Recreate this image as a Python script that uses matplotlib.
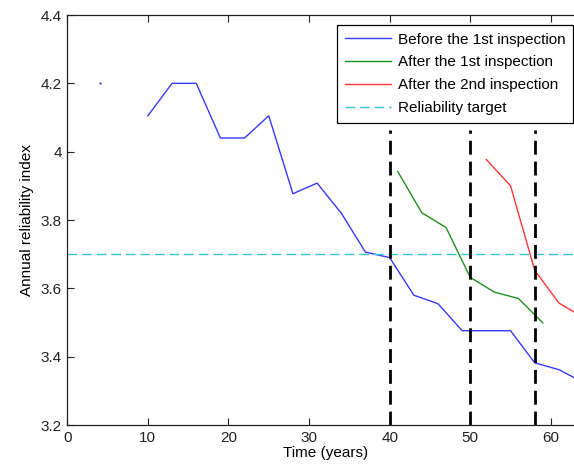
import numpy as np
import matplotlib
matplotlib.use("Agg")
import matplotlib.pyplot as plt

plt.rcParams['font.family'] = ['Liberation Sans', 'DejaVu Sans']

# Before the 1st inspection (the lone point at year 4 is drawn on its own)
t_before = [4, 7, 10, 13, 16, 19, 22, 25, 28, 31, 34, 37, 40, 43, 46, 49, 52, 55, 58, 61, 64]
r_before = [4.20, np.nan, 4.105, 4.20, 4.20, 4.04, 4.04, 4.105, 3.877, 3.908, 3.82, 3.706,
            3.69, 3.58, 3.555, 3.476, 3.476, 3.476, 3.382, 3.362, 3.325]

t_after1 = [41, 44, 47, 50, 53, 56, 59]
r_after1 = [3.942, 3.821, 3.778, 3.632, 3.589, 3.57, 3.499]

t_after2 = [52, 55, 58, 61, 64]
r_after2 = [3.977, 3.90, 3.653, 3.557, 3.515]

target = 3.7
inspections = [40, 50, 58]
insp_top = 4.063

fig = plt.figure(figsize=(5.74, 4.65), dpi=100)
# axes run a little past the right edge of the picture, as in the cropped original
ax = fig.add_axes([0.1172, 0.086, 0.8986, 0.8817])

blue = '#3838ff'
green = '#1f8f1f'
red = '#ff3535'
cyan = '#3cc4cc'

ax.plot(t_before, r_before, color=blue, lw=1.0, label='Before the 1st inspection')
ax.plot(t_before[:1], r_before[:1], color=blue, marker='s', ms=0.6, ls='none')
ax.plot(t_after1, r_after1, color=green, lw=1.0, label='After the 1st inspection')
ax.plot(t_after2, r_after2, color=red, lw=1.0, label='After the 2nd inspection')
ax.axhline(target, color=cyan, lw=1.0, ls=(0, (7, 3.5)), label='Reliability target')

for x in inspections:
    ax.plot([x, x], [3.2, insp_top], color='black', lw=2.0, ls=(0, (5, 2.5)))

ax.set_xlim(0, 64)
ax.set_ylim(3.2, 4.4)
ax.set_xticks(range(0, 61, 10))
ax.set_yticks([3.2, 3.4, 3.6, 3.8, 4.0, 4.2, 4.4])
ax.set_yticklabels(['3.2', '3.4', '3.6', '3.8', '4', '4.2', '4.4'])
ax.tick_params(direction='in', length=5, width=0.8, top=True, right=True,
               labelsize=11, colors='#222222', pad=4)
for s in ax.spines.values():
    s.set_linewidth(0.9)
    s.set_color('#222222')

ax.set_xlabel('Time (years)', fontsize=11, labelpad=1)
ax.set_ylabel('Annual reliability index', fontsize=11, labelpad=5)

leg = ax.legend(loc='upper right', bbox_to_anchor=(573 / 574, 1 - 25 / 465),
                bbox_transform=fig.transFigure, fontsize=11, frameon=True,
                fancybox=False, framealpha=1, edgecolor='black',
                handlelength=3.0, handletextpad=0.45, labelspacing=0.58,
                borderpad=0.5, borderaxespad=0)
leg.get_frame().set_linewidth(0.9)

fig.savefig('out.png', dpi=100)
